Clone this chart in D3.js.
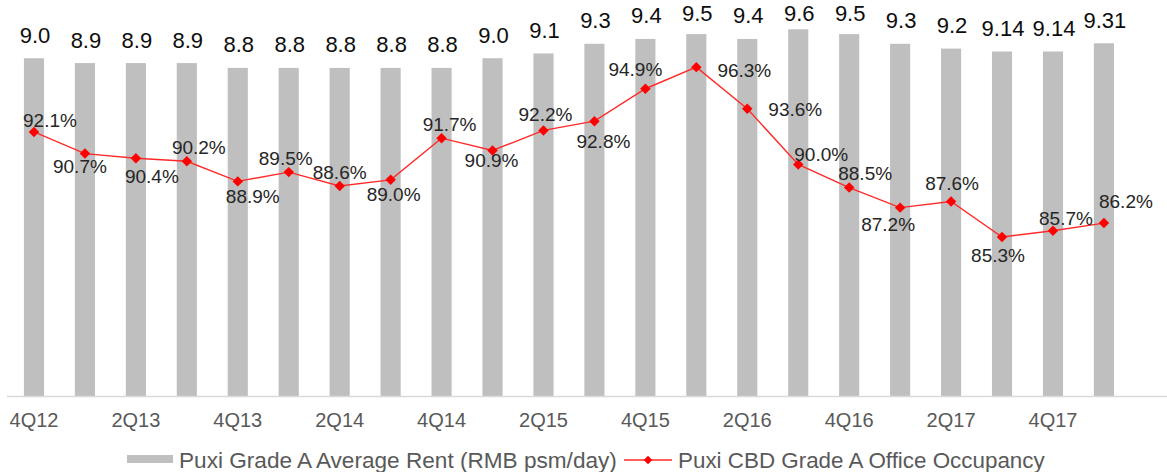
<!DOCTYPE html>
<html>
<head>
<meta charset="utf-8">
<script src="https://cdn.jsdelivr.net/npm/d3@7"></script>
<style>
  html, body { margin: 0; padding: 0; background: #ffffff; }
  svg { display: block; font-family: "Liberation Sans", Arial, sans-serif; }
</style>
</head>
<body>
<svg id="chart" width="1167" height="472"></svg>
<script>
const quarters = ["4Q12","1Q13","2Q13","3Q13","4Q13","1Q14","2Q14","3Q14","4Q14","1Q15","2Q15","3Q15",
                  "4Q15","1Q16","2Q16","3Q16","4Q16","1Q17","2Q17","3Q17","4Q17","1Q18"];
const rent = [9.0, 8.9, 8.9, 8.9, 8.8, 8.8, 8.8, 8.8, 8.8, 9.0, 9.1, 9.3,
              9.4, 9.5, 9.4, 9.6, 9.5, 9.3, 9.2, 9.14, 9.14, 9.31];
const occupancy = [92.1, 90.7, 90.4, 90.2, 88.9, 89.5, 88.6, 89.0, 91.7, 90.9, 92.2, 92.8,
                   94.9, 96.3, 93.6, 90.0, 88.5, 87.2, 87.6, 85.3, 85.7, 86.2];
const tickLabels = ["4Q12","2Q13","4Q13","2Q14","4Q14","2Q15","4Q15","2Q16","4Q16","2Q17","4Q17"];
const seriesNames = ["Puxi Grade A Average Rent (RMB psm/day)", "Puxi CBD Grade A Office Occupancy"];

// label placement offsets (layout only), relative to each occupancy point
const occLabelOffsets = [[16,-12],[-5,13],[16,18],[12,-14],[15,15],[-3,-14],[0,-14],[3,14],
  [8,-14],[-1,10],[2,-16],[9,20],[-10,-20],[48,3],[48,0],[23,-10],[16,-14],[-12,17],
  [1,-18],[-4,18],[13,-13],[22,-22]];

const svg = d3.select("#chart");
const baseY = 396, topY = 10;

const x = d3.scaleBand().domain(quarters).range([8.5, 1129.4]).padding(0);
const yRent = d3.scaleLinear().domain([2, 10]).range([baseY, topY]);
const yOcc = d3.scaleLinear().domain([75, 100]).range([baseY, topY]);
const barW = x.bandwidth() * 0.395;
const cx = q => x(q) + x.bandwidth() / 2;

const fmtRent = v => (Math.round(v * 10) / 10 === v) ? v.toFixed(1) : v.toFixed(2);

// bars
svg.append("g").selectAll("rect").data(quarters).join("rect")
  .attr("x", q => cx(q) - barW / 2)
  .attr("y", (q, i) => yRent(rent[i]))
  .attr("width", barW)
  .attr("height", (q, i) => baseY - yRent(rent[i]))
  .attr("fill", "#bfbfbf");

// axis baseline
svg.append("line")
  .attr("x1", 7).attr("x2", 1167).attr("y1", baseY + 0.5).attr("y2", baseY + 0.5)
  .attr("stroke", "#d9d9d9").attr("stroke-width", 1.5);

// x axis
const xAxis = d3.axisBottom(x).tickValues(tickLabels).tickSize(0).tickPadding(0);
const gx = svg.append("g").attr("transform", `translate(0,${baseY})`).call(xAxis);
gx.select(".domain").remove();
gx.selectAll("text")
  .attr("y", 31).attr("dy", 0)
  .attr("fill", "#595959")
  .style("font-size", "20px")
  .style("font-family", "'Liberation Sans', Arial, sans-serif");

// rent labels
svg.append("g").selectAll("text").data(quarters).join("text")
  .attr("x", q => cx(q) + 1)
  .attr("y", (q, i) => Math.max(yRent(rent[i]) - 15.5, 21))
  .attr("text-anchor", "middle")
  .attr("fill", "#0d0d0d")
  .style("font-size", "22px")
  .text((q, i) => fmtRent(rent[i]));

// occupancy line
const line = d3.line().x(d => cx(d.q)).y(d => yOcc(d.v));
const occData = quarters.map((q, i) => ({ q, v: occupancy[i], i }));
svg.append("path").datum(occData)
  .attr("d", line)
  .attr("fill", "none")
  .attr("stroke", "#ff2a2a")
  .attr("stroke-width", 1.4);

const diamond = d3.symbol().type(d3.symbolDiamond2).size(70);
svg.append("g").selectAll("path").data(occData).join("path")
  .attr("d", diamond)
  .attr("transform", d => `translate(${cx(d.q)},${yOcc(d.v)})`)
  .attr("fill", "#ff0000");

// occupancy labels
svg.append("g").selectAll("text").data(occData).join("text")
  .attr("x", d => cx(d.q) + occLabelOffsets[d.i][0])
  .attr("y", d => yOcc(d.v) + occLabelOffsets[d.i][1])
  .attr("dy", "0.36em")
  .attr("text-anchor", "middle")
  .attr("fill", "#262626")
  .style("font-size", "19px")
  .text(d => d.v.toFixed(1) + "%");

// legend
const lg = svg.append("g");
lg.append("rect").attr("x", 127).attr("y", 455).attr("width", 46).attr("height", 8).attr("fill", "#bfbfbf");
lg.append("text").attr("x", 179).attr("y", 467.5).attr("fill", "#595959")
  .style("font-size", "22.6px").text(seriesNames[0]);
lg.append("line").attr("x1", 624).attr("x2", 672).attr("y1", 460).attr("y2", 460)
  .attr("stroke", "#ff2a2a").attr("stroke-width", 1.4);
lg.append("path").attr("d", d3.symbol().type(d3.symbolDiamond2).size(45)())
  .attr("transform", "translate(648,460)").attr("fill", "#ff0000");
lg.append("text").attr("x", 678).attr("y", 467.5).attr("fill", "#595959")
  .style("font-size", "22.4px").text(seriesNames[1]);
</script>
</body>
</html>
